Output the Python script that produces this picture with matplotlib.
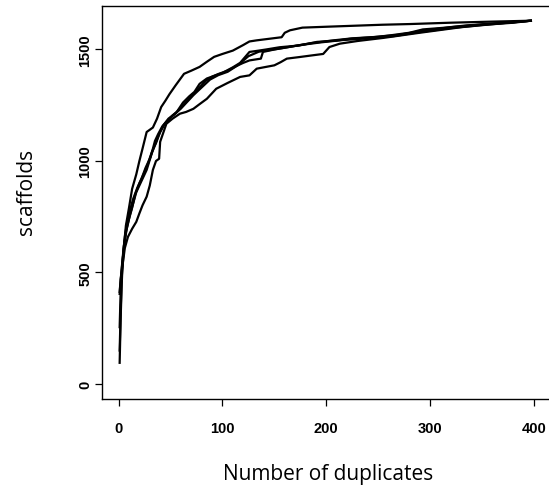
import matplotlib
matplotlib.use("Agg")
import matplotlib.pyplot as plt

# ---- data ----
curve_a_x = [1, 2, 4, 7, 10, 13, 17, 20, 23, 27, 33, 37, 41, 45, 49, 55, 63, 70, 78, 85, 92, 100, 110, 120, 126, 133, 145, 157, 160, 165, 177, 200, 230, 254, 280, 319, 360, 397]
curve_a_y = [404, 470, 560, 710, 790, 875, 940, 1000, 1055, 1130, 1150, 1190, 1242, 1270, 1300, 1340, 1391, 1405, 1422, 1445, 1467, 1480, 1495, 1520, 1536, 1541, 1548, 1555, 1575, 1586, 1598, 1602, 1607, 1611, 1614, 1620, 1625, 1629]

curve_b_x = [1, 2, 3, 5, 8, 11, 14, 17, 20, 24, 27, 31, 35, 38, 42, 47, 52, 56, 62, 68, 73, 78, 85, 91, 100, 110, 117, 126, 135, 142, 155, 174, 191, 210, 223, 245, 261, 280, 293, 315, 335, 365, 397]
curve_b_y = [255, 420, 520, 620, 700, 760, 810, 860, 890, 930, 960, 1020, 1090, 1120, 1155, 1180, 1205, 1220, 1262, 1290, 1310, 1346, 1370, 1380, 1395, 1420, 1440, 1489, 1495, 1500, 1510, 1518, 1534, 1540, 1548, 1555, 1563, 1575, 1590, 1598, 1608, 1618, 1629]

curve_c_x = [1, 2, 3, 5, 7, 10, 13, 16, 20, 24, 28, 32, 36, 40, 45, 50, 55, 60, 66, 72, 78, 84, 90, 96, 105, 113, 120, 126, 137, 139, 150, 165, 185, 205, 225, 250, 270, 295, 320, 350, 380, 397]
curve_c_y = [150, 330, 480, 600, 680, 740, 790, 850, 900, 940, 985, 1040, 1080, 1130, 1170, 1195, 1215, 1240, 1270, 1300, 1330, 1360, 1378, 1390, 1405, 1425, 1440, 1451, 1459, 1489, 1500, 1512, 1528, 1540, 1550, 1557, 1566, 1586, 1600, 1612, 1622, 1629]

curve_d_x = [1, 2, 4, 6, 9, 13, 17, 20, 23, 27, 30, 33, 36, 39, 40, 46, 52, 59, 65, 72, 78, 85, 94, 105, 117, 126, 133, 142, 150, 156, 162, 174, 187, 197, 203, 213, 230, 255, 290, 330, 370, 397]
curve_d_y = [413, 470, 540, 610, 660, 696, 727, 765, 801, 840, 890, 960, 1000, 1010, 1086, 1167, 1190, 1212, 1220, 1234, 1255, 1279, 1324, 1350, 1377, 1384, 1414, 1422, 1429, 1443, 1459, 1466, 1474, 1480, 1511, 1526, 1538, 1552, 1575, 1600, 1618, 1629]

curve_e_x = [1, 2, 3, 4, 6, 8, 11, 14, 18, 22, 26, 30, 34, 38, 43, 48, 54, 60, 66, 72, 80, 88, 96, 105, 115, 125, 135, 145, 160, 175, 195, 215, 240, 265, 290, 320, 350, 380, 397]
curve_e_y = [95, 300, 450, 560, 660, 720, 780, 830, 880, 920, 970, 1010, 1060, 1110, 1160, 1190, 1210, 1235, 1265, 1295, 1330, 1365, 1385, 1400, 1430, 1470, 1490, 1497, 1508, 1520, 1532, 1542, 1550, 1560, 1578, 1596, 1610, 1620, 1629]

x_ticks = [0, 100, 200, 300, 400]
y_ticks = [0, 500, 1000, 1500]
x_label = "Number of duplicates"
y_label = "scaffolds"

curves = [(curve_a_x, curve_a_y), (curve_b_x, curve_b_y), (curve_c_x, curve_c_y),
          (curve_d_x, curve_d_y), (curve_e_x, curve_e_y)]

W, H = 549, 489
fig = plt.figure(figsize=(W / 100, H / 100), dpi=100)
left, right, top, bottom = 102, 550.6, 7, 399.5
ax = fig.add_axes([left / W, 1 - bottom / H, (right - left) / W, (bottom - top) / H])

for cx, cy in curves:
    ax.plot(cx, cy, color="black", lw=1.6)

ax.set_xlim(-16, 416)
ax.set_ylim(-65, 1695)
ax.set_xticks(x_ticks)
ax.set_yticks(y_ticks)
for s in ax.spines.values():
    s.set_linewidth(1.0)
ax.tick_params(direction="out", length=5.0, width=0.9, color="black")
ax.tick_params(axis="x", pad=11)
ax.tick_params(axis="y", pad=2)
tick_font = dict(family=["Liberation Sans", "DejaVu Sans"], size=10.5, weight="bold")
ax.set_xticklabels([str(v) for v in x_ticks], **tick_font)
ax.set_yticklabels([str(v) for v in y_ticks], rotation=90, va="center", **tick_font)

lab_font = dict(family=["Open Sans", "DejaVu Sans"], size=15)
fig.text(222.7 / W, 1 - 480 / H, x_label, ha="left", va="baseline", **lab_font)
fig.text(32 / W, 1 - 192 / H, y_label, rotation=90, rotation_mode="anchor",
         ha="center", va="baseline", **lab_font)

fig.savefig("out.png", dpi=100)
